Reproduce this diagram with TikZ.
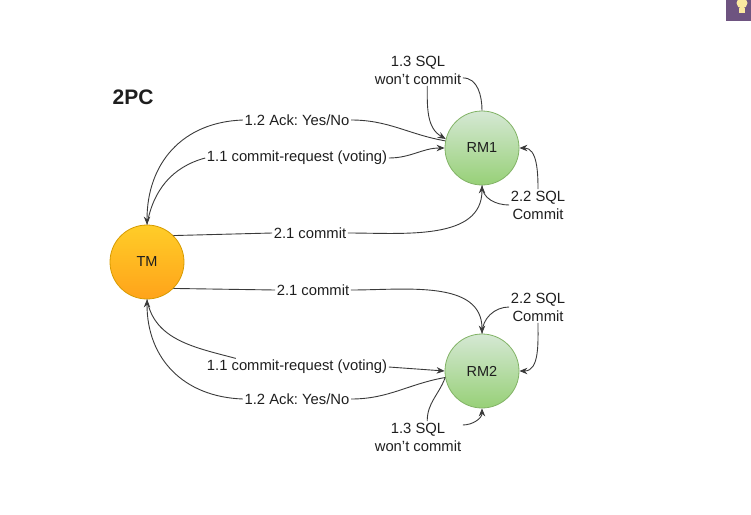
\documentclass[tikz,border=0pt]{standalone}
\usepackage{fontspec}
\setmainfont{Liberation Sans}
\usetikzlibrary{arrows.meta}
\frenchspacing
\definecolor{tmtop}{HTML}{FFCD28}
\definecolor{tmbot}{HTML}{FFA31A}
\definecolor{tmline}{HTML}{D79B00}
\definecolor{rmtop}{HTML}{D5E8D4}
\definecolor{rmbot}{HTML}{97D077}
\definecolor{rmline}{HTML}{82B366}
\definecolor{edge}{HTML}{3A3A3A}
\definecolor{txt}{HTML}{1E1E1E}
\definecolor{badge}{HTML}{6E5480}
\definecolor{bulb}{HTML}{FBE9A0}
\tikzset{
  tm/.style={circle,draw=tmline,top color=tmtop,bottom color=tmbot,minimum size=74pt,inner sep=0pt,line width=0.8pt,font=\fontsize{14.5}{16}\selectfont,text=txt},
  rm/.style={circle,draw=rmline,top color=rmtop,bottom color=rmbot,minimum size=74pt,inner sep=0pt,line width=0.8pt,font=\fontsize{14.5}{16}\selectfont,text=txt},
  lbl/.style={font=\fontsize{14.8}{18}\selectfont,text=txt,align=center,inner sep=1.5pt},
  conn/.style={draw=edge,line width=0.9pt},
  tip/.style={conn,-{Stealth[length=8pt,width=6.5pt]}}
}
\begin{document}
\begin{tikzpicture}[x=1pt,y=1pt]
\useasboundingbox (0,0) rectangle (751,-514);
\fill[badge] (726,0) rectangle (751,-21);
\fill[bulb] (742,-3) circle (5.5);
\fill[bulb] (739,-8) rectangle (745,-13);
\node[font=\bfseries\fontsize{21}{24}\selectfont,text=txt] (title) at (133,-97) {2PC};
\node[tm] (TM) at (147,-262) {TM};
\node[rm] (RM1) at (482,-148) {RM1};
\node[rm] (RM2) at (482,-371) {RM2};
\node[lbl] (ack1) at (297,-120) {1.2 Ack: Yes/No};
\node[lbl] (req1) at (297,-158) {1.1 commit-request (voting)};
\node[lbl] (com1) at (310,-233) {2.1 commit};
\node[lbl] (sql1) at (538,-205) {2.2 SQL\\Commit};
\node[lbl] (won1) at (418,-70) {1.3 SQL\\won't commit};
\node[lbl] (com2) at (313,-290) {2.1 commit};
\node[lbl] (sql2) at (538,-307) {2.2 SQL\\Commit};
\node[lbl] (req2) at (297,-367) {1.1 commit-request (voting)};
\node[lbl] (ack2) at (297,-399) {1.2 Ack: Yes/No};
\node[lbl] (won2) at (418,-437) {1.3 SQL\\won't commit};
\draw[conn] (RM1.169) to[out=170,in=0] (ack1.east);
\draw[tip] (ack1.west) to[out=182,in=90,looseness=1.1] (TM.north);
\draw[conn] (TM.north) to[out=80,in=195] (req1.west);
\draw[tip] (req1.east) to[out=0,in=180] (RM1.west);
\draw[conn] (TM.45) -- (com1.west);
\draw[tip] (com1.east) to[out=0,in=-90] (RM1.south);
\draw[conn] (RM1.south) to[out=-90,in=180] (sql1.west);
\draw[tip] (sql1.north) to[out=90,in=0] (RM1.east);
\draw[conn] (RM1.north) to[out=90,in=0] (won1.-10);
\draw[tip] (won1.-60) to[out=-90,in=150] (RM1.166);
\draw[conn] (TM.-45) -- (com2.west);
\draw[tip] (com2.east) to[out=0,in=90] (RM2.north);
\draw[conn] (RM2.north) to[out=90,in=180] (sql2.west);
\draw[tip] (sql2.south) to[out=-90,in=0] (RM2.east);
\draw[conn] (TM.south) to[out=-80,in=165] (req2.172);
\draw[tip] (req2.east) -- (RM2.west);
\draw[conn] (RM2.190) to[out=190,in=0] (ack2.east);
\draw[tip] (ack2.west) to[out=178,in=-90,looseness=1.1] (TM.south);
\draw[conn] (RM2.190) to[out=-110,in=90] (won2.60);
\draw[tip] (won2.15) to[out=0,in=-90] (RM2.south);
\end{tikzpicture}
\end{document}
